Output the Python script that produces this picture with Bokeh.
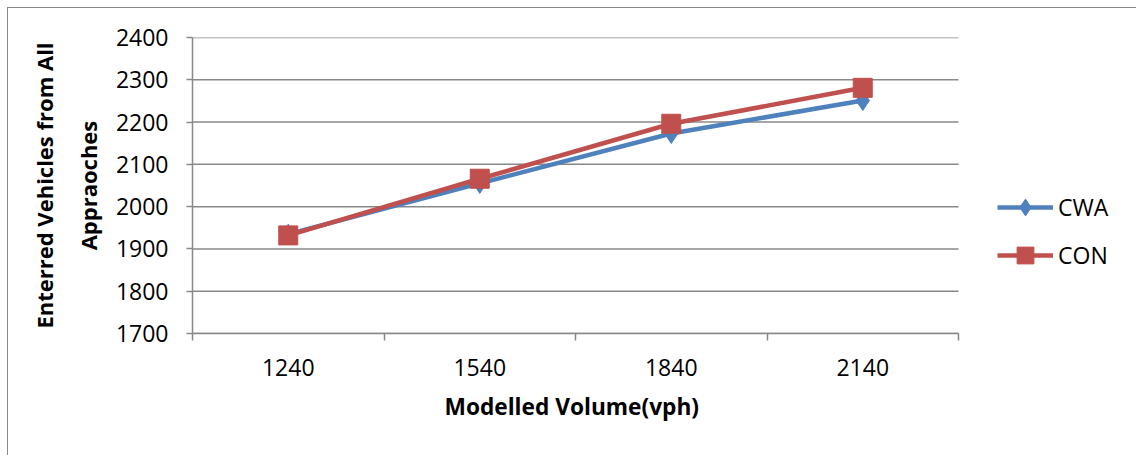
from bokeh.plotting import figure
from bokeh.models import FixedTicker, Legend, LegendItem, InlineStyleSheet, Title
from bokeh.embed import file_html
from bokeh.resources import INLINE

# Modelled volume categories (vph) and entered vehicles per scenario
volumes = [1240, 1540, 1840, 2140]
cwa = [1935, 2055, 2173, 2251]
con = [1932, 2066, 2196, 2281]
y_ticks = [1700, 1800, 1900, 2000, 2100, 2200, 2300, 2400]

BLUE = "#4F81BD"
RED = "#C0504D"
GRID = "#888888"
FONT = "Open Sans"

# each category occupies one equal-width slot; tick marks sit on slot edges
step = volumes[1] - volumes[0]
edges = [v - step / 2 for v in volumes] + [volumes[-1] + step / 2]

# plotting area is 766 px wide; the frame runs on 178 px further to the
# right so that the legend can sit beside the data inside the frame
AREA_PX, LEGEND_PX = 766, 178
x_end = edges[-1] + (edges[-1] - edges[0]) * LEGEND_PX / AREA_PX

p = figure(
    width=1136, height=455,
    x_range=(edges[0], x_end), y_range=(y_ticks[0], y_ticks[-1]),
    output_backend="svg", toolbar_location=None,
    min_border_left=192, min_border_right=0,
    min_border_top=37, min_border_bottom=122,
    background_fill_color="white", border_fill_color="white",
)
p.outline_line_color = None

# thin frame around the whole chart area (left and top edges are in view)
p.stylesheets = [InlineStyleSheet(css="""
:host { position: relative; }
:host::after {
  content: ""; position: absolute; left: 7px; top: 7px; right: 0; bottom: 0;
  border-left: 1px solid #8a8a8a; border-top: 1px solid #8a8a8a;
  pointer-events: none; z-index: 10;
}
""")]

# axes
p.xaxis.ticker = FixedTicker(ticks=volumes, minor_ticks=edges)
p.xaxis.bounds = (edges[0], edges[-1])
p.yaxis.ticker = FixedTicker(ticks=y_ticks, minor_ticks=[])
for ax in (p.xaxis, p.yaxis):
    ax.axis_line_color = GRID
    ax.axis_line_width = 1.5
    ax.major_tick_line_color = GRID
    ax.major_tick_line_width = 1.5
    ax.minor_tick_line_color = GRID
    ax.minor_tick_line_width = 1.5
    ax.major_label_text_font = FONT
    ax.major_label_text_font_size = "23px"
    ax.major_label_text_color = "black"

p.xaxis.major_tick_out = 0
p.xaxis.major_tick_in = 0
p.xaxis.minor_tick_out = 7
p.xaxis.minor_tick_in = 0
p.xaxis.major_label_standoff = 18

p.yaxis.major_tick_out = 6
p.yaxis.major_tick_in = 0
p.yaxis.minor_tick_out = 0
p.yaxis.major_label_standoff = 18
p.yaxis.axis_label = "Enterred Vehicles from All\nAppraoches"
p.yaxis.axis_label_standoff = 10
p.yaxis.axis_label_text_line_height = 1.47
p.yaxis.axis_label_text_font = FONT
p.yaxis.axis_label_text_font_size = "22px"
p.yaxis.axis_label_text_font_style = "bold"
p.yaxis.axis_label_text_color = "black"

# x-axis title, centred under the plotting area rather than the whole frame
x_title = Title(
    text="Modelled Volume(vph)", align="left", offset=252,
    text_font=FONT, text_font_size="22.7px", text_font_style="bold",
    text_color="black", standoff=20,
)
p.add_layout(x_title, "below")

# horizontal gridlines across the plotting area only
p.xgrid.visible = False
p.ygrid.visible = False
p.segment(x0=edges[0], x1=edges[-1], y0=y_ticks, y1=y_ticks,
          line_color=GRID, line_width=1.5)

# series
l_cwa = p.line(volumes, cwa, line_color=BLUE, line_width=4.5)
m_cwa = p.scatter(volumes, cwa, marker="diamond", size=20,
                  fill_color=BLUE, line_color=BLUE)
l_con = p.line(volumes, con, line_color=RED, line_width=4.5)
m_con = p.scatter(volumes, con, marker="square", size=19,
                  fill_color=RED, line_color=RED)

legend = Legend(
    items=[LegendItem(label="CWA", renderers=[l_cwa, m_cwa]),
           LegendItem(label="CON", renderers=[l_con, m_con])],
    location=(805, 57),
    orientation="vertical",
    glyph_width=56, glyph_height=42,
    label_height=20, label_standoff=5,
    spacing=6, padding=0, margin=0,
    border_line_color=None, background_fill_alpha=0,
    label_text_font=FONT, label_text_font_size="23px",
    label_text_color="black",
)
p.add_layout(legend, "center")

open("out.html", "w").write(file_html(p, INLINE))
